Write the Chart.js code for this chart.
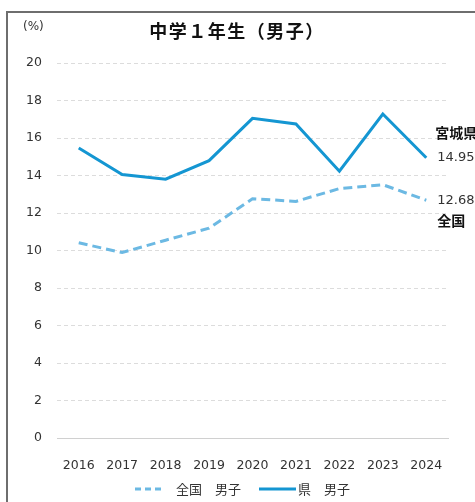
<!DOCTYPE html>
<html>
<head>
<meta charset="utf-8">
<script src="https://cdn.jsdelivr.net/npm/chart.js@4"></script>
<style>
  body { margin: 0; background: #fff; }
  #frame { position: absolute; left: 6px; top: 11px; width: 520px; height: 520px; border: 2px solid #6e6e6e; }
  #wrap { position: absolute; left: 0; top: 0; width: 475px; height: 502px; }
</style>
</head>
<body>
<div id="frame"></div>
<div id="wrap"><canvas id="chart" width="475" height="502"></canvas></div>
<script>
const years = ['2016', '2017', '2018', '2019', '2020', '2021', '2022', '2023', '2024'];
const national = [10.41, 9.89, 10.55, 11.19, 12.76, 12.62, 13.30, 13.51, 12.68];
const prefecture = [15.47, 14.05, 13.80, 14.79, 17.05, 16.75, 14.23, 17.28, 14.95];
const seriesNames = ['全国　男子', '県　男子'];
const endLabels = ['全国', '宮城県'];
const titleText = '中学１年生（男子）';

const darkBlue = '#1496d2';
const lightBlue = '#6cb9e3';
const textFont = '"DejaVu Sans", Verdana, sans-serif';
const jpFont = '"Noto Sans CJK JP", sans-serif';

// title, (%) label, end-of-line labels, legend
const extras = {
  id: 'extras',
  afterDraw(chart) {
    const ctx = chart.ctx;
    const x = chart.scales.x, y = chart.scales.y;
    ctx.save();
    ctx.fillStyle = '#111';
    ctx.font = 'bold 18px ' + jpFont;
    ctx.letterSpacing = '1.5px';
    ctx.textAlign = 'center';
    ctx.textBaseline = 'middle';
    ctx.fillText(titleText, 237, 31);
    ctx.letterSpacing = '0px';

    ctx.fillStyle = '#333';
    ctx.font = '12px ' + textFont;
    ctx.textAlign = 'left';
    ctx.fillText('(%)', 23, 27);

    // labels at the last point
    const last = years.length - 1;
    const lx = x.getPixelForValue(last) + 11;
    const pyPref = y.getPixelForValue(prefecture[last]);
    const pyNat = y.getPixelForValue(national[last]);
    ctx.fillStyle = '#333';
    ctx.font = '13px ' + textFont;
    ctx.fillText(prefecture[last].toFixed(2), lx, pyPref);
    ctx.fillText(national[last].toFixed(2), lx, pyNat);
    ctx.fillStyle = '#111';
    ctx.font = 'bold 14px ' + jpFont;
    ctx.fillText(endLabels[1], lx - 2, pyPref - 25);
    ctx.fillText(endLabels[0], lx, pyNat + 20);

    // legend
    const ly = 489;
    ctx.lineWidth = 3;
    ctx.strokeStyle = lightBlue;
    ctx.setLineDash([6, 4]);
    ctx.beginPath(); ctx.moveTo(135, ly); ctx.lineTo(161, ly); ctx.stroke();
    ctx.strokeStyle = darkBlue;
    ctx.setLineDash([]);
    ctx.beginPath(); ctx.moveTo(259, ly); ctx.lineTo(296, ly); ctx.stroke();
    ctx.fillStyle = '#333';
    ctx.font = '13px ' + jpFont;
    ctx.fillText(seriesNames[0], 176, ly);
    ctx.fillText(seriesNames[1], 298, ly);
    ctx.restore();
  }
};

new Chart(document.getElementById('chart'), {
  type: 'line',
  data: {
    labels: years,
    datasets: [{
      label: seriesNames[0],
      data: national,
      borderColor: lightBlue,
      borderWidth: 3,
      borderDash: [9, 5],
      pointRadius: 0,
      tension: 0,
      fill: false
    }, {
      label: seriesNames[1],
      data: prefecture,
      borderColor: darkBlue,
      borderWidth: 3,
      pointRadius: 0,
      tension: 0,
      fill: false
    }]
  },
  options: {
    responsive: false,
    animation: false,
    layout: { padding: { top: 63, right: 27, left: 0, bottom: 0 } },
    plugins: { legend: { display: false }, title: { display: false }, tooltip: { enabled: false } },
    scales: {
      x: {
        offset: true,
        grid: { display: false },
        border: { display: true, color: '#d0d0d0', width: 1 },
        ticks: { color: '#333', font: { size: 12.5, family: textFont }, padding: 12, maxRotation: 0 },
        afterFit(scale) { scale.height = 64; }
      },
      y: {
        min: 0, max: 20,
        grid: {
          drawTicks: false,
          color: (c) => c.tick && c.tick.value === 0 ? 'rgba(0,0,0,0)' : '#dcdcdc'
        },
        border: { display: false, dash: [4, 3] },
        ticks: { stepSize: 2, color: '#333', font: { size: 12.5, family: textFont }, padding: 15 },
        afterFit(scale) { scale.width = 57; }
      }
    }
  },
  plugins: [extras]
});
</script>
</body>
</html>
